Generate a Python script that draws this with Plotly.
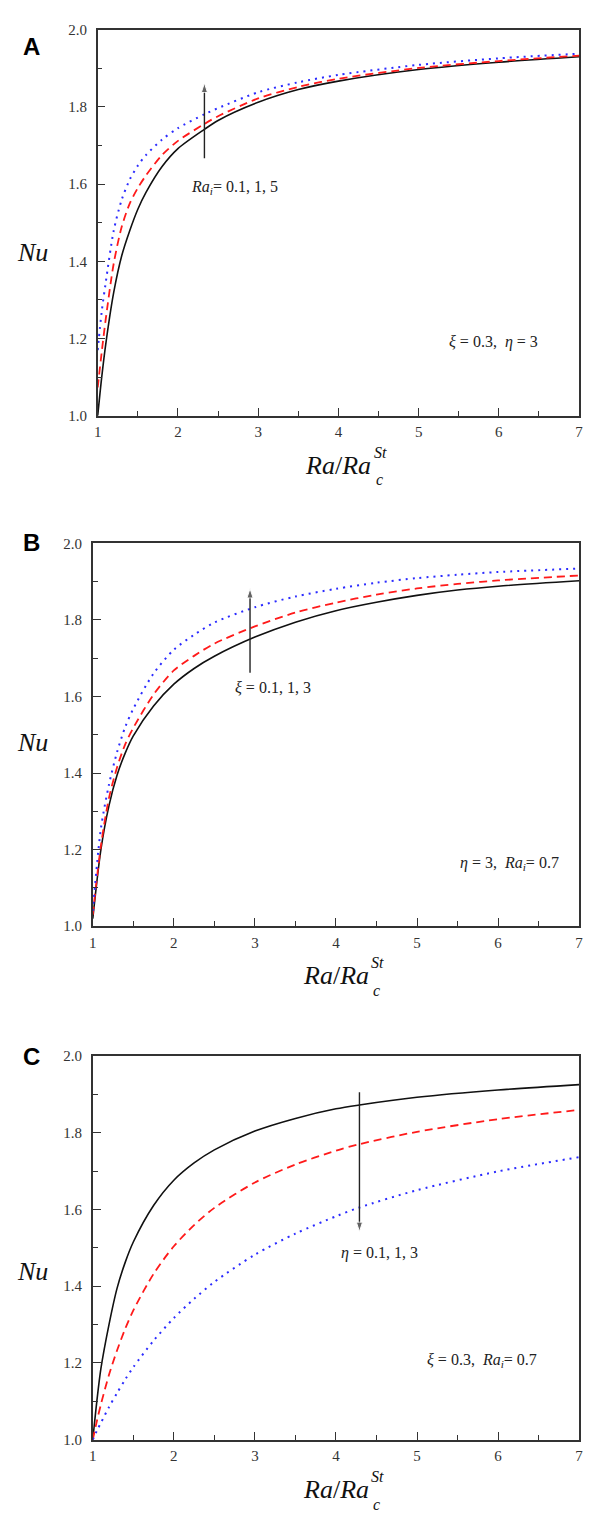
import plotly.graph_objects as go

W, H = 591, 1517

# ---- Panel A: effect of internal heating Ra_i (xi = 0.3, eta = 3) ----
a_x = [1.0, 1.05, 1.1, 1.2, 1.3, 1.4, 1.5, 1.6, 1.8, 2.0, 2.33, 2.5, 3.0, 3.5, 4.0, 5.0, 6.0, 7.0]
a_rai_01 = [1.0, 1.10, 1.185, 1.32, 1.415, 1.48, 1.535, 1.578, 1.645, 1.692, 1.742, 1.765, 1.812, 1.845, 1.867, 1.897, 1.916, 1.930]
a_rai_1 = [1.073, 1.165, 1.25, 1.395, 1.49, 1.55, 1.59, 1.622, 1.675, 1.712, 1.756, 1.776, 1.822, 1.852, 1.873, 1.901, 1.919, 1.933]
a_rai_5 = [1.17, 1.27, 1.345, 1.48, 1.56, 1.612, 1.648, 1.675, 1.715, 1.745, 1.781, 1.797, 1.838, 1.864, 1.883, 1.909, 1.926, 1.938]

# ---- Panel B: effect of xi (eta = 3, Ra_i = 0.7) ----
b_x = [1.0, 1.1, 1.2, 1.3, 1.4, 1.5, 1.75, 2.0, 2.25, 2.5, 3.0, 3.5, 4.0, 4.5, 5.0, 5.5, 6.0, 7.0]
b_xi_01 = [1.02, 1.20, 1.315, 1.395, 1.452, 1.497, 1.575, 1.632, 1.673, 1.705, 1.755, 1.794, 1.824, 1.846, 1.864, 1.878, 1.888, 1.902]
b_xi_1 = [1.03, 1.21, 1.335, 1.415, 1.475, 1.518, 1.605, 1.668, 1.706, 1.738, 1.783, 1.819, 1.845, 1.866, 1.882, 1.894, 1.903, 1.916]
b_xi_3 = [1.04, 1.255, 1.37, 1.455, 1.52, 1.568, 1.66, 1.722, 1.761, 1.793, 1.833, 1.861, 1.881, 1.897, 1.909, 1.918, 1.925, 1.934]

# ---- Panel C: effect of eta (xi = 0.3, Ra_i = 0.7) ----
c_x = [1.0, 1.05, 1.1, 1.2, 1.3, 1.4, 1.5, 1.75, 2.0, 2.25, 2.5, 3.0, 3.5, 4.0, 4.29, 5.0, 6.0, 7.0]
c_eta_01 = [1.0, 1.10, 1.185, 1.30, 1.395, 1.462, 1.515, 1.610, 1.676, 1.721, 1.755, 1.804, 1.837, 1.862, 1.872, 1.892, 1.911, 1.925]
c_eta_1 = [1.0, 1.048, 1.092, 1.169, 1.233, 1.289, 1.337, 1.432, 1.504, 1.559, 1.604, 1.670, 1.717, 1.753, 1.770, 1.802, 1.835, 1.859]
c_eta_3 = [1.0, 1.023, 1.044, 1.085, 1.122, 1.157, 1.189, 1.258, 1.317, 1.367, 1.411, 1.482, 1.537, 1.582, 1.605, 1.650, 1.699, 1.736]

x_ticks = [1, 2, 3, 4, 5, 6, 7]
y_ticks = [1.0, 1.2, 1.4, 1.6, 1.8, 2.0]

BLACK = "#111111"
RED = "#ff1a1a"
BLUE = "#2b2bff"
AXIS = "#333333"
SERIF = "Liberation Serif, DejaVu Serif, serif"


def px_x(px):
    return px / W


def px_y(py):
    return 1 - py / H


# plot-area boxes in pixels: (left, right, top, bottom)
boxes = [(95, 583, 22, 412), (90, 583, 541, 928), (90, 583, 1059, 1447)]

panels = [
    (a_x, [a_rai_01, a_rai_1, a_rai_5]),
    (b_x, [b_xi_01, b_xi_1, b_xi_3]),
    (c_x, [c_eta_01, c_eta_1, c_eta_3]),
]
styles = [
    dict(color=BLACK, width=1.6, dash="solid"),
    dict(color=RED, width=1.8, dash="8px,5px"),
    dict(color=BLUE, width=2.0, dash="2px,5px"),
]

# trend arrows: (x, tail y, head y) in data units of each panel
arrows = [(2.33, 1.667, 1.862), (2.94, 1.662, 1.882), (4.29, 1.905, 1.542)]

fig = go.Figure()
layout = dict(
    width=W, height=H,
    margin=dict(l=0, r=0, t=0, b=0),
    paper_bgcolor="white", plot_bgcolor="white",
    showlegend=False,
)

for i, ((xs, series), (l, r, t, b)) in enumerate(zip(panels, boxes)):
    n = "" if i == 0 else str(i + 1)
    for ys, st in zip(series, styles):
        fig.add_trace(go.Scatter(
            x=xs, y=ys, mode="lines", line=dict(shape="spline", smoothing=0.8, **st),
            xaxis="x" + n, yaxis="y" + n, hoverinfo="skip",
        ))
    ax_x, ay0, ay1 = arrows[i]
    fig.add_trace(go.Scatter(
        x=[ax_x, ax_x], y=[ay0, ay1], mode="lines+markers",
        line=dict(color="#222222", width=1.4),
        marker=dict(symbol=["circle", "arrow"], size=[0, 10], angleref="previous", color="#222222"),
        xaxis="x" + n, yaxis="y" + n, hoverinfo="skip",
    ))
    layout["xaxis" + n] = dict(
        domain=[px_x(l), px_x(r)], anchor="y" + n, range=[1, 7],
        tickmode="array", tickvals=x_ticks, ticks="inside", ticklen=8, tickwidth=1.3,
        tickcolor=AXIS, minor=dict(dtick=0.5, ticks="inside", ticklen=5, tickwidth=1.2, tickcolor=AXIS),
        showline=True, linecolor=AXIS, linewidth=1.5, mirror=True, showgrid=False, zeroline=False,
        tickfont=dict(family=SERIF, size=15, color="#333333"), ticklabelstandoff=2,
    )
    layout["yaxis" + n] = dict(
        domain=[px_y(b), px_y(t)], anchor="x" + n, range=[1.0, 2.0],
        tickmode="array", tickvals=y_ticks, tickformat=".1f", ticks="inside", ticklen=8, tickwidth=1.3,
        tickcolor=AXIS, minor=dict(dtick=0.1, ticks="inside", ticklen=5, tickwidth=1.2, tickcolor=AXIS),
        showline=True, linecolor=AXIS, linewidth=1.5, mirror=True, showgrid=False, zeroline=False,
        tickfont=dict(family=SERIF, size=15, color="#333333"), ticklabelstandoff=6,
    )

fig.update_layout(**layout)

ann = []
title_font = dict(family=SERIF, size=26, color="#111111")
small_font = dict(family=SERIF, size=16, color="#111111")
label_font = dict(family="Liberation Sans, Arial, sans-serif", size=24, color="#000000")

panel_letters = ["A", "B", "C"]
letter_y = [39, 540, 1060]
nu_y = [247, 742, 1277]
for i, (l, r, t, b) in enumerate(boxes):
    cx = (l + r) / 2
    # panel letter
    ann.append(dict(text="<b>%s</b>" % panel_letters[i], x=px_x(28), y=px_y(letter_y[i]),
                    xref="paper", yref="paper", showarrow=False, font=label_font,
                    xanchor="center", yanchor="middle"))
    # y title
    ann.append(dict(text="<i>Nu</i>", x=px_x(29), y=px_y(nu_y[i]), xref="paper", yref="paper",
                    showarrow=False, font=title_font, xanchor="center", yanchor="middle"))
    # x title with stacked sub/superscript
    ty = b + 50
    ann.append(dict(text="<i>Ra</i>/<i>Ra</i>", x=px_x(cx), y=px_y(ty), xref="paper", yref="paper",
                    showarrow=False, font=title_font, xanchor="center", yanchor="middle"))
    ann.append(dict(text="<i>St</i>", x=px_x(cx + 34), y=px_y(ty - 13), xref="paper", yref="paper",
                    showarrow=False, font=small_font, xanchor="left", yanchor="middle"))
    ann.append(dict(text="<i>c</i>", x=px_x(cx + 36), y=px_y(ty + 15), xref="paper", yref="paper",
                    showarrow=False, font=small_font, xanchor="left", yanchor="middle"))

note_font = dict(family=SERIF, size=16, color="#222222")

ann += [
    # Panel A
    dict(text="<i>Ra</i><sub><i>i</i></sub>= 0.1, 1, 5", x=2.70, y=1.59, xref="x", yref="y",
         showarrow=False, font=note_font, xanchor="center", yanchor="middle"),
    dict(text="<i>ξ</i> = 0.3,  <i>η</i> = 3", x=5.93, y=1.19, xref="x", yref="y",
         showarrow=False, font=note_font, xanchor="center", yanchor="middle"),
    # Panel B
    dict(text="<i>ξ</i> = 0.1, 1, 3", x=3.22, y=1.623, xref="x2", yref="y2",
         showarrow=False, font=note_font, xanchor="center", yanchor="middle"),
    dict(text="<i>η</i> = 3,  <i>Ra</i><sub><i>i</i></sub>= 0.7", x=6.14, y=1.163, xref="x2", yref="y2",
         showarrow=False, font=note_font, xanchor="center", yanchor="middle"),
    # Panel C
    dict(text="<i>η</i> = 0.1, 1, 3", x=4.535, y=1.487, xref="x3", yref="y3",
         showarrow=False, font=note_font, xanchor="center", yanchor="middle"),
    dict(text="<i>ξ</i> = 0.3,  <i>Ra</i><sub><i>i</i></sub>= 0.7", x=5.80, y=1.206, xref="x3", yref="y3",
         showarrow=False, font=note_font, xanchor="center", yanchor="middle"),
]

fig.update_layout(annotations=ann)
fig.write_html("out.html")
